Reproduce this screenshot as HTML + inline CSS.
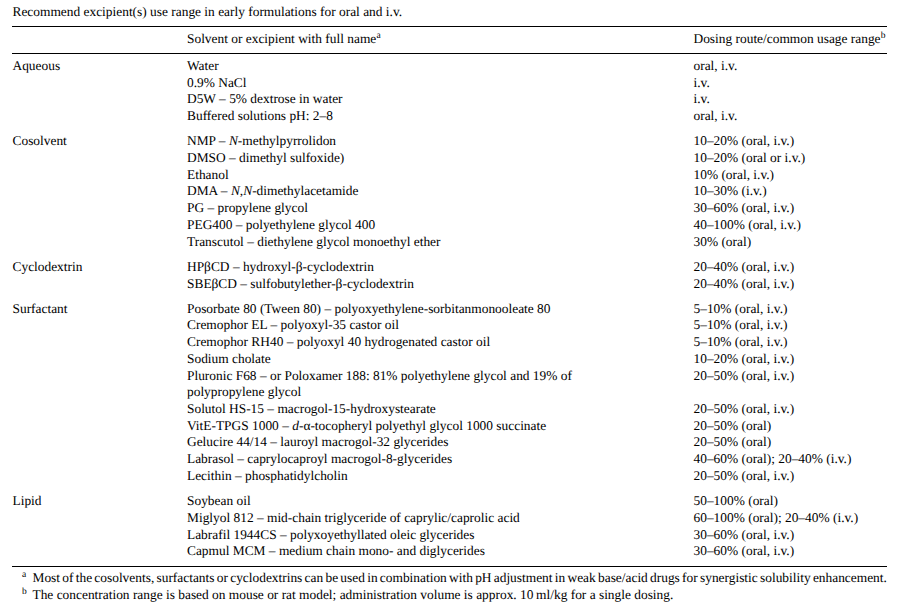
<!DOCTYPE html>
<html><head><meta charset="utf-8"><title>Recommend excipient(s) use range</title>
<style>
html,body{margin:0;padding:0;background:#fff;}
body{width:898px;height:610px;position:relative;overflow:hidden;font-family:"Liberation Serif","Times New Roman",serif;font-size:13.4px;color:#000;}
.t{position:absolute;white-space:nowrap;line-height:17px;text-rendering:geometricPrecision;}
.t sup{font-size:9.5px;line-height:0;vertical-align:0;position:relative;top:-5px;margin-left:0.2px;}
.t sup.fn{margin-left:0;}
.r{position:absolute;height:1px;background:#000;}
.fa{word-spacing:-1.08px;}
</style></head><body>
<div class="r" style="top:26px;left:12px;width:875px"></div><div class="r" style="top:53px;left:12px;width:875px"></div><div class="r" style="top:566px;left:12px;width:875px"></div>
<div class="t" style="left:12.50px;top:3.00px">Recommend excipient(s) use range in early formulations for oral and i.v.</div>
<div class="t" style="left:187.00px;top:30.00px">Solvent or excipient with full name<sup>a</sup></div>
<div class="t" style="left:693.50px;top:30.00px">Dosing route/common usage range<sup>b</sup></div>
<div class="t" style="left:12.50px;top:57.00px">Aqueous</div>
<div class="t" style="left:187.00px;top:57.00px">Water</div>
<div class="t" style="left:693.50px;top:57.00px">oral, i.v.</div>
<div class="t" style="left:187.00px;top:74.00px">0.9% NaCl</div>
<div class="t" style="left:693.50px;top:74.00px">i.v.</div>
<div class="t" style="left:187.00px;top:90.00px">D5W – 5% dextrose in water</div>
<div class="t" style="left:693.50px;top:90.00px">i.v.</div>
<div class="t" style="left:187.00px;top:107.00px">Buffered solutions pH: 2–8</div>
<div class="t" style="left:693.50px;top:107.00px">oral, i.v.</div>
<div class="t" style="left:12.50px;top:132.00px">Cosolvent</div>
<div class="t" style="left:187.00px;top:132.00px">NMP – <i>N</i>-methylpyrrolidon</div>
<div class="t" style="left:693.50px;top:132.00px">10–20% (oral, i.v.)</div>
<div class="t" style="left:187.00px;top:149.00px">DMSO – dimethyl sulfoxide)</div>
<div class="t" style="left:693.50px;top:149.00px">10–20% (oral or i.v.)</div>
<div class="t" style="left:187.00px;top:166.00px">Ethanol</div>
<div class="t" style="left:693.50px;top:166.00px">10% (oral, i.v.)</div>
<div class="t" style="left:187.00px;top:182.00px">DMA – <i>N,N</i>-dimethylacetamide</div>
<div class="t" style="left:693.50px;top:182.00px">10–30% (i.v.)</div>
<div class="t" style="left:187.00px;top:199.00px">PG – propylene glycol</div>
<div class="t" style="left:693.50px;top:199.00px">30–60% (oral, i.v.)</div>
<div class="t" style="left:187.00px;top:216.00px">PEG400 – polyethylene glycol 400</div>
<div class="t" style="left:693.50px;top:216.00px">40–100% (oral, i.v.)</div>
<div class="t" style="left:187.00px;top:233.00px">Transcutol – diethylene glycol monoethyl ether</div>
<div class="t" style="left:693.50px;top:233.00px">30% (oral)</div>
<div class="t" style="left:12.50px;top:258.00px">Cyclodextrin</div>
<div class="t" style="left:187.00px;top:258.00px">HPβCD – hydroxyl-β-cyclodextrin</div>
<div class="t" style="left:693.50px;top:258.00px">20–40% (oral, i.v.)</div>
<div class="t" style="left:187.00px;top:275.00px">SBEβCD – sulfobutylether-β-cyclodextrin</div>
<div class="t" style="left:693.50px;top:275.00px">20–40% (oral, i.v.)</div>
<div class="t" style="left:12.50px;top:300.00px">Surfactant</div>
<div class="t" style="left:187.00px;top:300.00px">Posorbate 80 (Tween 80) – polyoxyethylene-sorbitanmonooleate 80</div>
<div class="t" style="left:693.50px;top:300.00px">5–10% (oral, i.v.)</div>
<div class="t" style="left:187.00px;top:316.00px">Cremophor EL – polyoxyl-35 castor oil</div>
<div class="t" style="left:693.50px;top:316.00px">5–10% (oral, i.v.)</div>
<div class="t" style="left:187.00px;top:333.00px">Cremophor RH40 – polyoxyl 40 hydrogenated castor oil</div>
<div class="t" style="left:693.50px;top:333.00px">5–10% (oral, i.v.)</div>
<div class="t" style="left:187.00px;top:350.00px">Sodium cholate</div>
<div class="t" style="left:693.50px;top:350.00px">10–20% (oral, i.v.)</div>
<div class="t" style="left:187.00px;top:367.00px">Pluronic F68 – or Poloxamer 188: 81% polyethylene glycol and 19% of</div>
<div class="t" style="left:693.50px;top:367.00px">20–50% (oral, i.v.)</div>
<div class="t" style="left:187.00px;top:383.00px">polypropylene glycol</div>
<div class="t" style="left:187.00px;top:400.00px">Solutol HS-15 – macrogol-15-hydroxystearate</div>
<div class="t" style="left:693.50px;top:400.00px">20–50% (oral, i.v.)</div>
<div class="t" style="left:187.00px;top:417.00px">VitE-TPGS 1000 – <i>d</i>-α-tocopheryl polyethyl glycol 1000 succinate</div>
<div class="t" style="left:693.50px;top:417.00px">20–50% (oral)</div>
<div class="t" style="left:187.00px;top:433.00px">Gelucire 44/14 – lauroyl macrogol-32 glycerides</div>
<div class="t" style="left:693.50px;top:433.00px">20–50% (oral)</div>
<div class="t" style="left:187.00px;top:450.00px">Labrasol – caprylocaproyl macrogol-8-glycerides</div>
<div class="t" style="left:693.50px;top:450.00px">40–60% (oral); 20–40% (i.v.)</div>
<div class="t" style="left:187.00px;top:467.00px">Lecithin – phosphatidylcholin</div>
<div class="t" style="left:693.50px;top:467.00px">20–50% (oral, i.v.)</div>
<div class="t" style="left:12.50px;top:492.00px">Lipid</div>
<div class="t" style="left:187.00px;top:492.00px">Soybean oil</div>
<div class="t" style="left:693.50px;top:492.00px">50–100% (oral)</div>
<div class="t" style="left:187.00px;top:509.00px">Miglyol 812 – mid-chain triglyceride of caprylic/caprolic acid</div>
<div class="t" style="left:693.50px;top:509.00px">60–100% (oral); 20–40% (i.v.)</div>
<div class="t" style="left:187.00px;top:526.00px">Labrafil 1944CS – polyxoyethyllated oleic glycerides</div>
<div class="t" style="left:693.50px;top:526.00px">30–60% (oral, i.v.)</div>
<div class="t" style="left:187.00px;top:542.00px">Capmul MCM – medium chain mono- and diglycerides</div>
<div class="t" style="left:693.50px;top:542.00px">30–60% (oral, i.v.)</div>
<div class="t fa" style="left:32.50px;top:569.00px">Most of the cosolvents, surfactants or cyclodextrins can be used in combination with pH adjustment in weak base/acid drugs for synergistic solubility enhancement.</div>
<div class="t fb" style="left:32.50px;top:586.00px">The concentration range is based on mouse or rat model; administration volume is approx. 10&#8201;ml/kg for a single dosing.</div>
<div class="t" style="left:21.90px;top:569.00px"><sup class="fn">a</sup></div>
<div class="t" style="left:21.90px;top:586.00px"><sup class="fn">b</sup></div>
</body></html>
